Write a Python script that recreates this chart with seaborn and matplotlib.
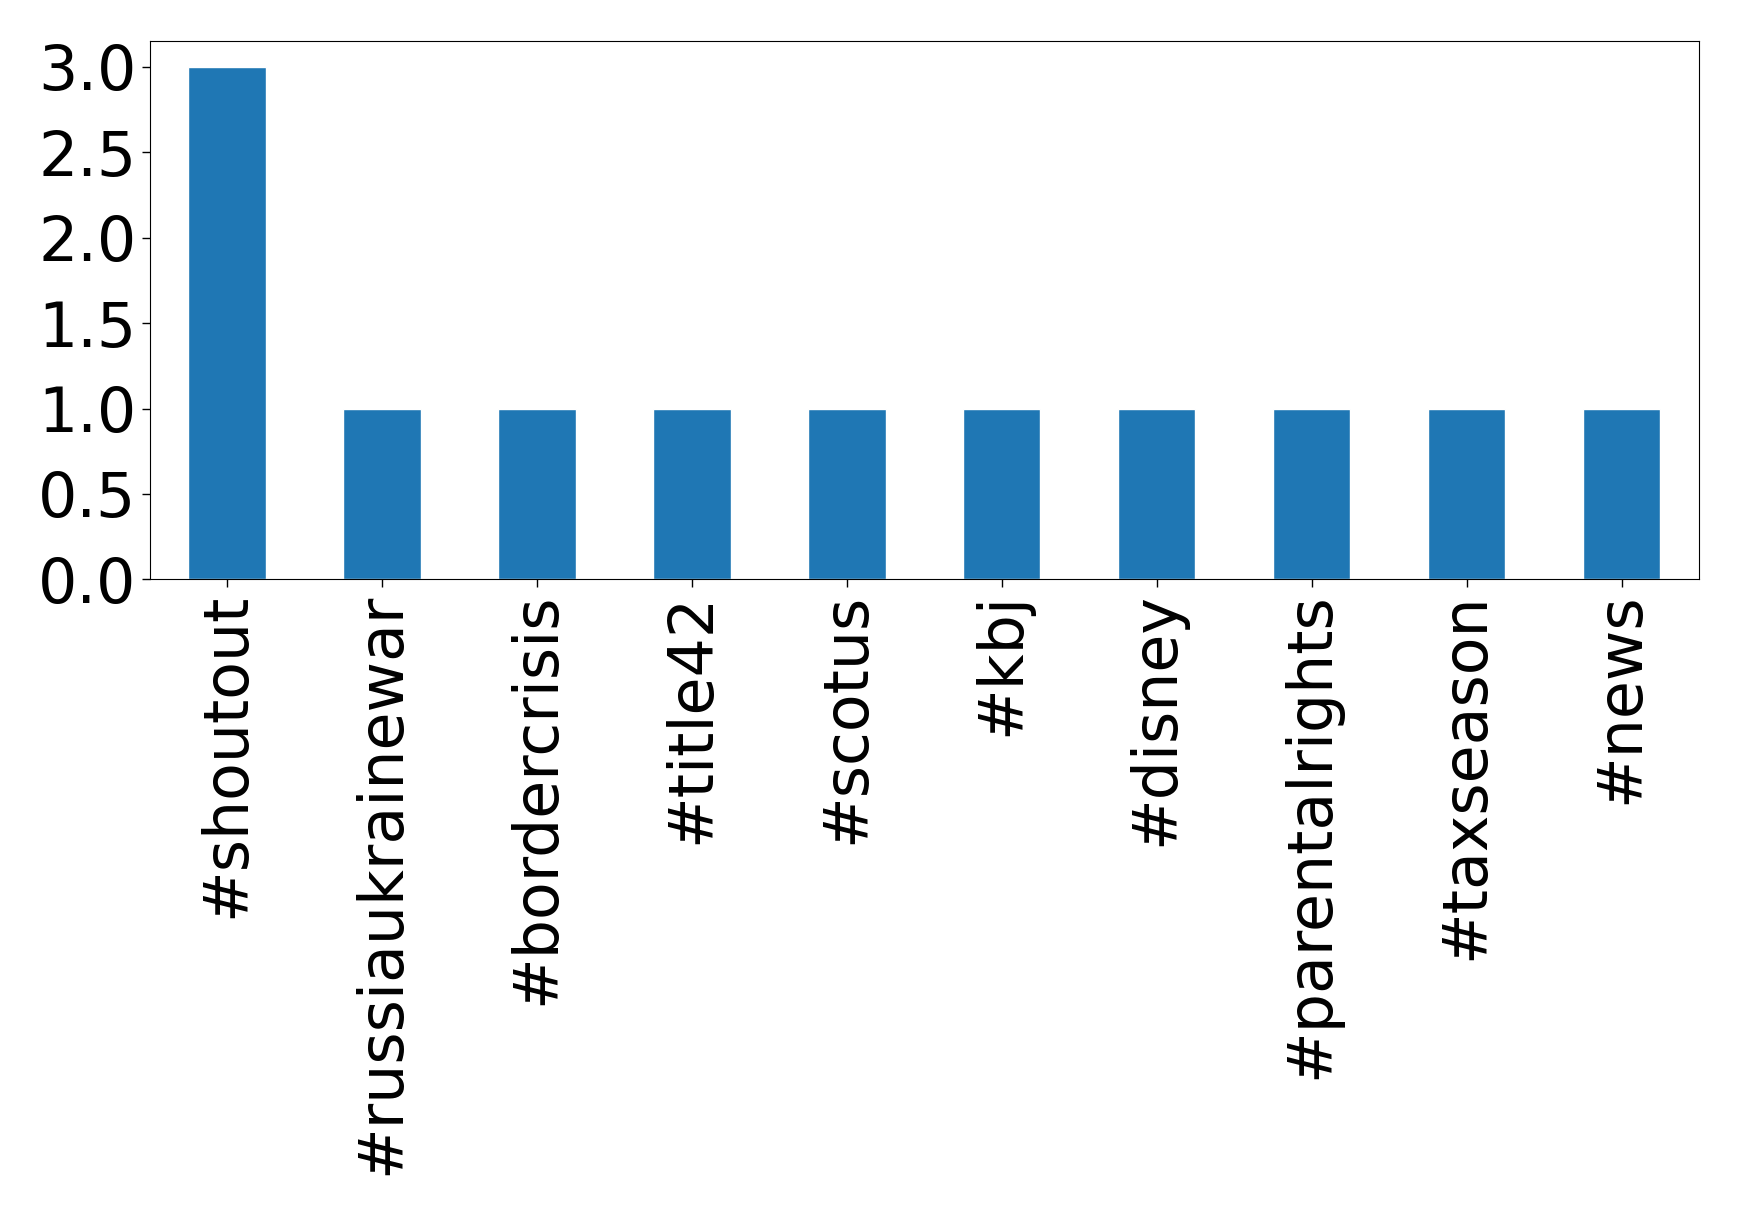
import pandas as pd
import seaborn as sns
import matplotlib
matplotlib.use("Agg")
import matplotlib.pyplot as plt

hashtags = ["#shoutout", "#russiaukrainewar", "#bordercrisis", "#title42", "#scotus",
            "#kbj", "#disney", "#parentalrights", "#taxseason", "#news"]
counts = [3, 1, 1, 1, 1, 1, 1, 1, 1, 1]
yticks = [0.0, 0.5, 1.0, 1.5, 2.0, 2.5, 3.0]

df = pd.DataFrame({"hashtag": hashtags, "count": counts})

sns.set_style("white")
plt.rcParams["font.family"] = ["DejaVu Sans"]

fig, ax = plt.subplots(figsize=(17.39, 12.17), dpi=100)
fig.subplots_adjust(left=0.086, right=0.977, top=0.966, bottom=0.524)

sns.barplot(data=df, x="hashtag", y="count", color="#1f77b4", saturation=1,
            width=0.5, ax=ax)
ax.set_xlim(-0.5, 9.5)
ax.set_ylim(0, 3.15)
ax.set_yticks(yticks)
ax.set_yticklabels([f"{v:.1f}" for v in yticks])
ax.set_xlabel("")
ax.set_ylabel("")
ax.tick_params(axis="x", labelsize=44.5, rotation=90, length=6, width=1,
               bottom=True, colors="black")
ax.tick_params(axis="y", labelsize=44.5, length=6, width=1, left=True, colors="black")
for s in ax.spines.values():
    s.set_color("black")
    s.set_linewidth(0.8)

fig.savefig("out.png", dpi=100)
